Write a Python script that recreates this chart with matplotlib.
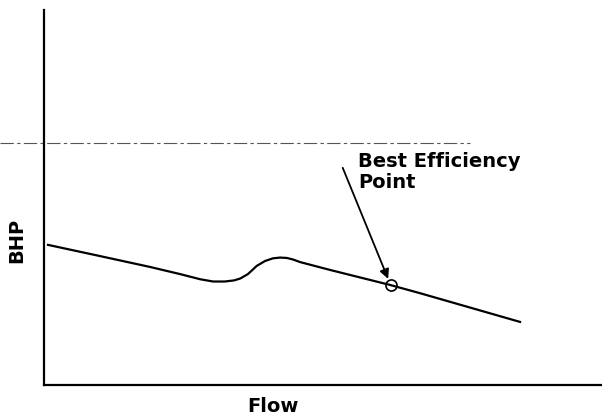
import matplotlib
matplotlib.use("Agg")
import matplotlib.pyplot as plt

# BHP vs flow curve (arbitrary units, 0-100)
flow = [0, 9.4, 18.4, 23.8, 27.5, 29.8, 31.9, 33.6, 34.7, 36.1, 37.7, 39.2,
        40.6, 41.9, 43.1, 44.2, 45.5, 50.9, 61.7, 67.1, 85.2]
bhp = [37.2, 34.2, 31.3, 29.4, 28.0, 27.4, 27.4, 27.7, 28.2, 29.4, 31.6, 32.9,
       33.6, 33.8, 33.7, 33.3, 32.6, 30.5, 26.5, 24.3, 16.6]

bep_flow, bep_bhp = 61.9, 26.5
arrow_start = (53.2, 57.8)
ref_level = 64.4
ref_span = (-8.7, 76.2)
label_lines = ['Best Efficiency', 'Point']

plt.rcParams['font.family'] = ['DejaVu Sans']

fig = plt.figure(figsize=(6.02, 4.16), dpi=100)
ax = fig.add_axes([44 / 602, 31 / 416, 558 / 602, 375 / 416])

ax.plot(flow, bhp, color='black', lw=1.6, solid_joinstyle='round')
ax.plot([bep_flow], [bep_bhp], marker='o', ms=8, mfc='none', mec='black', mew=1.2)

ax.plot(ref_span, [ref_level, ref_level], color='#555555', lw=0.8,
        dashes=(12, 3, 3, 3), clip_on=False)

ax.annotate('', xy=(bep_flow - 0.5, bep_bhp + 1.6), xytext=arrow_start,
            arrowprops=dict(arrowstyle='-|>', color='black', lw=1.3,
                            mutation_scale=14, shrinkA=0, shrinkB=0))
ax.text(56.0, 58.0, label_lines[0], fontsize=14, fontweight='bold',
        va='baseline', ha='left')
ax.text(56.0, 52.4, label_lines[1], fontsize=14, fontweight='bold',
        va='baseline', ha='left')

ax.set_xlim(-0.72, 100)
ax.set_ylim(-0.27, 100)
for s in ['top', 'right']:
    ax.spines[s].set_visible(False)
for s in ['left', 'bottom']:
    ax.spines[s].set_linewidth(1.6)
ax.set_xticks([])
ax.set_yticks([])

fig.text(17 / 602, 1 - 240 / 416, 'BHP', rotation=90, fontsize=14,
         fontweight='bold', ha='center', va='center')
fig.text(273 / 602, 1 - 412 / 416, 'Flow', fontsize=14,
         fontweight='bold', ha='center', va='baseline')

fig.savefig('out.png', dpi=100)
